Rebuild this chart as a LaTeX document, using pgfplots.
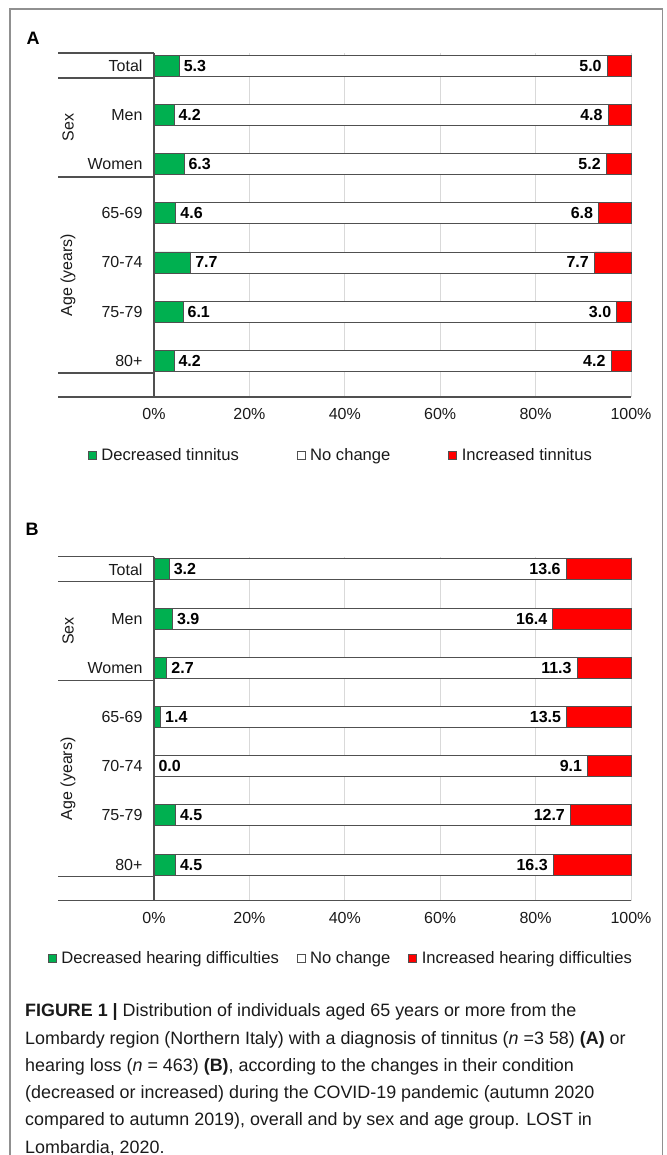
\documentclass[border=0pt]{standalone}
\usepackage{pgfplots}
\pgfplotsset{compat=1.18}
\usepackage{pgfplotstable}
\usepackage{fontspec}
\setmainfont{Liberation Sans}
\definecolor{xgreen}{HTML}{00B050}
\definecolor{xred}{HTML}{FF0000}
\definecolor{xline}{HTML}{505050}
\definecolor{xgrid}{HTML}{D9D9D9}
\definecolor{xframe}{HTML}{909090}
\definecolor{xtext}{HTML}{1A1A1A}
\newcommand\lab{\fontsize{16}{19}\selectfont}
\newcommand\leg{\fontsize{16.6}{19}\selectfont}
\newcommand\val{\fontsize{16}{18}\selectfont\bfseries}
\newcommand\capsz{\fontsize{17.9}{22}\selectfont}

% y: category position (Total=6 ... 80+=0); dec/noch/inc in %; pos = dec+noch (start of red segment)
\pgfplotstableread{
y dec noch inc pos
6 5.3 89.7 5.0 95.0
5 4.2 91.0 4.8 95.2
4 6.3 88.5 5.2 94.8
3 4.6 88.6 6.8 93.2
2 7.7 84.6 7.7 92.3
1 6.1 90.9 3.0 97.0
0 4.2 91.6 4.2 95.8
}\dataA
\pgfplotstableread{
y dec noch inc pos
6 3.2 83.2 13.6 86.4
5 3.9 79.7 16.4 83.6
4 2.7 86.0 11.3 88.7
3 1.4 85.1 13.5 86.5
2 0.0 90.9 9.1 90.9
1 4.5 82.8 12.7 87.3
0 4.5 79.2 16.3 83.7
}\dataB

\pgfplotsset{
  geom/.style={scale only axis, width=477pt, height=344pt, anchor=north west,
    xmin=0, xmax=100, ymin=-0.734, ymax=6.258, clip=false},
  panel/.style={geom,
    xbar stacked, bar width=21pt,
    axis line style={draw=none},
    xtick={0,20,40,60,80,100},
    xticklabels={0\%,20\%,40\%,60\%,80\%,100\%},
    xticklabel style={anchor=center, yshift=-17pt, font=\lab, text=xtext},
    ytick={0,1,2,3,4,5,6},
    yticklabels={80+,75-79,70-74,65-69,Women,Men,Total},
    yticklabel style={font=\lab, xshift=-8pt, text=xtext},
    major tick length=0pt,
    xmajorgrids, grid style={xgrid, line width=1pt},
    legend columns=3,
    legend style={draw=none, fill=none, font=\leg, text=xtext, at={(0.392,-0.1686)}, anchor=center,
      /tikz/every odd column/.append style={column sep=2.5pt}},
    legend image code/.code={\draw[#1, draw=xline, line width=0.8pt] (0pt,-4pt) rectangle (8pt,4pt);},
  },
  labels/.style={geom, hide axis},
  vallab/.style={draw=none, mark=none, point meta=explicit,
      nodes near coords={\pgfmathprintnumber[fixed,fixed zerofill,precision=1,assume math mode=true]{\pgfplotspointmeta}},
      every node near coord/.style={font=\val, text=black, anchor=#1}},
}

\begin{document}
\begin{tikzpicture}[x=1pt,y=-1pt]
\useasboundingbox (0,0) rectangle (666,1155);
% outer frame
\draw[xframe, line width=1.3pt] (10,1155) -- (10,9) -- (662.5,9) -- (662.5,1155);

% ---------------- Panel A ----------------
\node[font=\fontsize{18}{20}\selectfont\bfseries] at (33,38) {A};
\begin{axis}[panel, at={(154pt,-53pt)},
  legend style={/tikz/every even column/.append style={column sep=56pt}}]
\addplot[fill=xgreen, draw=xline, line width=0.9pt] table[x=dec, y=y]{\dataA};
\addlegendentry{Decreased tinnitus}
\addplot[fill=white, draw=xline, line width=0.9pt] table[x=noch, y=y]{\dataA};
\addlegendentry{No change}
\addplot[fill=xred, draw=xline, line width=0.9pt] table[x=inc, y=y]{\dataA};
\addlegendentry{Increased tinnitus}
\end{axis}
\begin{axis}[labels, at={(154pt,-53pt)}]
\addplot[vallab=west, every node near coord/.append style={xshift=1pt}] table[x=dec, y=y, meta=dec]{\dataA};
\addplot[vallab=east, every node near coord/.append style={xshift=-2pt}] table[x=pos, y=y, meta=inc]{\dataA};
\end{axis}
\draw[xline, line width=1.2pt] (154,53) -- (154,397);
\draw[xline, line width=1.2pt] (58,397) -- (631,397);
\foreach \yy in {53,78,177,373} \draw[xline, line width=1.2pt] (58,\yy) -- (154,\yy);
\node[font=\lab, text=xtext, rotate=90] at (68,127.5) {Sex};
\node[font=\lab, text=xtext, rotate=90] at (68,275) {Age (years)};

% ---------------- Panel B ----------------
\node[font=\fontsize{18}{20}\selectfont\bfseries] at (32,529) {B};
\begin{axis}[panel, at={(154pt,-556.7pt)},
  legend style={/tikz/every even column/.append style={column sep=16pt}}]
\addplot[fill=xgreen, draw=xline, line width=0.9pt] table[x=dec, y=y]{\dataB};
\addlegendentry{Decreased hearing difficulties}
\addplot[fill=white, draw=xline, line width=0.9pt] table[x=noch, y=y]{\dataB};
\addlegendentry{No change}
\addplot[fill=xred, draw=xline, line width=0.9pt] table[x=inc, y=y]{\dataB};
\addlegendentry{Increased hearing difficulties}
\end{axis}
\begin{axis}[labels, at={(154pt,-556.7pt)}]
\addplot[vallab=west, every node near coord/.append style={xshift=1pt}] table[x=dec, y=y, meta=dec]{\dataB};
\addplot[vallab=east, every node near coord/.append style={xshift=-2pt}] table[x=pos, y=y, meta=inc]{\dataB};
\end{axis}
\draw[xline, line width=1.2pt] (154,556.7) -- (154,900.7);
\draw[xline, line width=1.2pt] (58,900.7) -- (631,900.7);
\foreach \yy in {556.7,581.7,680.7,876.7} \draw[xline, line width=1.2pt] (58,\yy) -- (154,\yy);
\node[font=\lab, text=xtext, rotate=90] at (68,631.2) {Sex};
\node[font=\lab, text=xtext, rotate=90] at (68,778.7) {Age (years)};

% ---------------- Caption ----------------
\begin{scope}[every node/.style={anchor=base west, inner sep=0pt, font=\capsz, text=xtext}]
\node at (25,1016.7) {\textbf{FIGURE 1 |} Distribution of individuals aged 65 years or more from the};
\node at (25,1044.0) {Lombardy region (Northern Italy) with a diagnosis of tinnitus ({\itshape n} =3 58) \textbf{(A)} or};
\node at (25,1071.3) {hearing loss ({\itshape n} = 463) \textbf{(B)}, according to the changes in their condition};
\node at (25,1098.6) {(decreased or increased) during the COVID-19 pandemic (autumn 2020};
\node at (25,1125.9) {compared to autumn 2019), overall and by sex and age group. LOST in};
\node at (25,1153.2) {Lombardia, 2020.};
\end{scope}
\end{tikzpicture}
\end{document}
